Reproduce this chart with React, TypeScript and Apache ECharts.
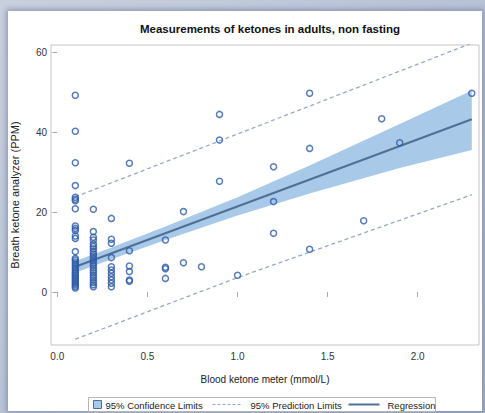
import React, { useEffect, useRef } from "react";
import * as echarts from "echarts";

// ---- data ----
const col01 = [49.2, 40.2, 32.3, 26.6, 23.7, 23.2, 22.8, 20.8, 16.5, 15.9, 15.4, 14.0, 13.4, 10.1, 8.4, 8.0, 7.5, 7.0, 6.5, 6.0, 5.5, 5.0, 4.6, 4.2, 3.8, 3.4, 3.0, 2.6, 2.2, 1.8, 1.4, 1.0];
const col02 = [20.7, 15.1, 13.7, 13.0, 12.0, 11.4, 10.8, 10.1, 9.5, 9.0, 8.4, 7.8, 7.2, 6.6, 6.0, 5.4, 4.8, 4.2, 3.6, 3.0, 2.4, 1.8, 1.3];
const col03 = [18.4, 13.2, 12.2, 8.6, 6.3, 5.5, 4.7, 3.8, 3.0, 2.2, 1.3];
const col04 = [32.2, 10.3, 6.5, 5.1, 3.0, 2.7];
const col06 = [13.0, 6.2, 5.8, 3.4];
const col07 = [20.1, 7.3];
const col08 = [6.3];
const col09 = [44.4, 38.0, 27.7];
const col10 = [4.2];
const col12 = [31.3, 22.6, 14.7];
const col14 = [49.7, 35.9, 10.7];
const col17 = [17.8];
const col18 = [43.3];
const col19 = [37.3];
const col23 = [49.7];

const columns: [number, number[]][] = [
  [0.1, col01], [0.2, col02], [0.3, col03], [0.4, col04], [0.6, col06],
  [0.7, col07], [0.8, col08], [0.9, col09], [1.0, col10], [1.2, col12],
  [1.4, col14], [1.7, col17], [1.8, col18], [1.9, col19], [2.3, col23],
];

const regX = [0.1, 2.3];
const regY = [6.3, 43.2];

const bandX = [0.1, 0.3, 0.6, 1.0, 1.4, 1.9, 2.3];
const bandUpper = [7.7, 11.1, 16.4, 23.7, 31.6, 42.0, 50.4];
const bandLower = [4.8, 8.2, 13.0, 19.1, 24.6, 31.0, 35.5];

const predX = [0.1, 1.0, 2.3];
const predUpper = [23.8, 39.5, 62.2];
const predLower = [-11.8, 3.6, 24.3];

const xTicks = [0, 0.5, 1.0, 1.5, 2.0];
const yTicks = [0, 20, 40, 60];

const FONT = '"Liberation Sans", Arial, sans-serif';
const BAND = "#a8c9e8";
const REG = "#506f95";
const PRED = "#9aa8c4";
const PT = "#2c5aa8";

export default function App() {
  const ref = useRef<HTMLDivElement>(null);

  useEffect(() => {
    if (!ref.current) return;
    const chart = echarts.init(ref.current, undefined, { renderer: "svg" });

    const points: number[][] = [];
    columns.forEach(([x, ys]) => ys.forEach((y) => points.push([x, y])));

    const option: any = {
      animation: false,
      title: {
        text: "Measurements of ketones in adults, non fasting",
        left: 265,
        top: 18,
        textAlign: "center",
        textStyle: { fontFamily: FONT, fontSize: 11.5, fontWeight: "bold", color: "#111" },
      },
      grid: {
        left: 51, right: 6, top: 45, bottom: 68,
        show: true, borderColor: "#c4c4c4", borderWidth: 1, backgroundColor: "#fff",
      },
      xAxis: {
        type: "value",
        min: -0.035,
        max: 2.34,
        name: "Blood ketone meter (mmol/L)",
        nameLocation: "middle",
        nameGap: 29,
        nameTextStyle: { fontFamily: FONT, fontSize: 10, color: "#222" },
        axisLine: { show: false },
        splitLine: { show: false },
        axisTick: { show: true, length: 5, customValues: xTicks, lineStyle: { color: "#aaa" } },
        axisLabel: {
          customValues: xTicks, margin: 6,
          fontFamily: FONT, fontSize: 10, color: "#333",
          formatter: (v: number) => v.toFixed(1),
        },
      },
      yAxis: {
        type: "value",
        min: -13.25,
        max: 61.75,
        name: "Breath ketone analyzer (PPM)",
        nameLocation: "middle",
        nameGap: 31,
        nameTextStyle: { fontFamily: FONT, fontSize: 11, color: "#222" },
        axisLine: { show: false },
        splitLine: { show: false },
        axisTick: { show: true, length: 5, customValues: yTicks, lineStyle: { color: "#aaa" } },
        axisLabel: {
          customValues: yTicks, margin: 4,
          fontFamily: FONT, fontSize: 10, color: "#333",
        },
      },
      series: [
        {
          name: "95% Confidence Limits",
          type: "custom",
          z: 1,
          silent: true,
          data: bandX.map((x, i) => [x, bandUpper[i]]),
          renderItem: (params: any, api: any) => {
            if (params.dataIndex !== 0) return null;
            const pts: number[][] = [];
            for (let i = 0; i < bandX.length; i++) pts.push(api.coord([bandX[i], bandUpper[i]]));
            for (let i = bandX.length - 1; i >= 0; i--) pts.push(api.coord([bandX[i], bandLower[i]]));
            return { type: "polygon", shape: { points: pts }, style: { fill: BAND } };
          },
        },
        {
          name: "95% Prediction Limits",
          type: "line",
          z: 2,
          symbol: "none",
          data: predX.map((x, i) => [x, predUpper[i]]),
          lineStyle: { color: PRED, width: 1.3, type: [4, 3] },
        },
        {
          name: "95% Prediction Limits (lower)",
          type: "line",
          z: 2,
          symbol: "none",
          data: predX.map((x, i) => [x, predLower[i]]),
          lineStyle: { color: PRED, width: 1.3, type: [4, 3] },
        },
        {
          name: "Regression",
          type: "line",
          z: 3,
          symbol: "none",
          data: regX.map((x, i) => [x, regY[i]]),
          lineStyle: { color: REG, width: 2 },
        },
        {
          name: "Observations",
          type: "scatter",
          z: 4,
          symbol: "circle",
          symbolSize: 6,
          data: points,
          itemStyle: { color: "rgba(0,0,0,0)", borderColor: PT, borderWidth: 1.5 },
        },
      ],
      graphic: [
        {
          type: "group",
          left: 88,
          top: 397,
          children: [
            { type: "rect", shape: { x: 0, y: 0, width: 347, height: 14 }, style: { fill: "#fff", stroke: "#b5b5b5", lineWidth: 1 } },
            { type: "rect", shape: { x: 5, y: 3, width: 8, height: 8 }, style: { fill: BAND, stroke: REG, lineWidth: 1 } },
            { type: "text", x: 17, y: 7.5, style: { text: "95% Confidence Limits", fontFamily: FONT, fontSize: 9.5, fill: "#222", verticalAlign: "middle" } },
            { type: "line", shape: { x1: 124, y1: 7, x2: 153, y2: 7 }, style: { stroke: PRED, lineWidth: 1.2, lineDash: [3, 2] } },
            { type: "text", x: 162, y: 7.5, style: { text: "95% Prediction Limits", fontFamily: FONT, fontSize: 9.5, fill: "#222", verticalAlign: "middle" } },
            { type: "line", shape: { x1: 260, y1: 7, x2: 291, y2: 7 }, style: { stroke: REG, lineWidth: 2 } },
            { type: "text", x: 299, y: 7.5, style: { text: "Regression", fontFamily: FONT, fontSize: 9.5, fill: "#222", verticalAlign: "middle" } },
          ],
        },
      ],
    };

    chart.setOption(option);
    return () => chart.dispose();
  }, []);

  return (
    <div style={{ position: "fixed", left: 0, top: 0, width: 485, height: 413, background: "linear-gradient(135deg, #c9d0de 0%, #a9b5cd 100%)", overflow: "hidden" }}>
      <div style={{ position: "absolute", left: 8, top: 11, width: 474, height: 400, background: "#fff", boxShadow: "0 0 5px 2px rgba(80,100,145,0.45)" }} />
      <div ref={ref} style={{ position: "absolute", left: 0, top: 0, width: 485, height: 413 }} />
    </div>
  );
}
